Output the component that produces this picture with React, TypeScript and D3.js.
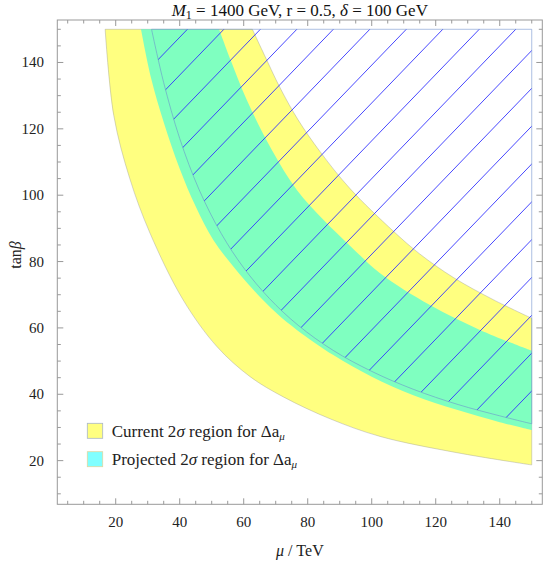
import React from 'react';
import * as d3 from 'd3';

const W = 545;
const H = 562;

// boundaries, [mu (TeV), tan beta]
const currentLow = [
  [16.7, 150], [19.4, 124], [24.4, 105], [30.7, 88.6], [41.1, 68.4], [51.6, 54.4],
  [62, 45.3], [72.4, 39.2], [87, 32.6], [102.6, 27.3], [126.6, 22.4], [150, 18.7],
];
const currentHigh = [
  [62.7, 150], [66, 143.2], [71.4, 132.3], [77, 122.7], [83.8, 113.2], [93.2, 102],
  [106.7, 89.2], [115, 82.3], [125.5, 75.2], [138, 68.5], [150, 62.9],
];
const projectedLow = [
  [27.9, 150], [31, 135.5], [35, 122], [40, 108], [45, 96.6], [50.5, 86.5], [56.75, 78.5],
  [63, 71.5], [70.3, 64.4], [76.6, 59.4], [88, 51.8], [100, 45.3], [113, 39.7],
  [126.6, 35.3], [140, 31.6], [150, 29.2],
];
const projectedHigh = [
  [52.3, 150], [56, 140.5], [61, 128.6], [68.75, 113.7], [76.6, 101.6], [84.9, 92.6],
  [93.2, 84.8], [102.6, 76.5], [118.2, 66.9], [133.8, 59.4], [150, 53.1],
];
// edge of the hatched region
const hatchEdge = [
  [31.2, 150], [35, 133.9], [40, 117.1], [46, 101.8], [53, 88.4], [60, 78.1], [68, 68.9],
  [77, 60.8], [88, 53.2], [100, 46.9], [113, 41.5], [127, 36.9], [140, 33.5], [150, 31.1],
];
// hatch lines: mu - tanb = offset
const hatchOffsets = [
  -107.6, -96.2, -84.8, -73.4, -62.0, -50.6, -39.2, -27.8, -16.4, -5.0,
  6.4, 17.8, 29.2, 40.6, 52.0, 63.4, 74.8, 86.2, 97.6, 109.0,
];
const muMax = 150;
const tanMax = 150;

const xTicks = [20, 40, 60, 80, 100, 120, 140];
const yTicks = [20, 40, 60, 80, 100, 120, 140];

const legendItems = [
  { label: 'Current', color: '#ffff80', edge: '#a9b6c8' },
  { label: 'Projected', color: '#80ffff', edge: '#e0d8a0' },
];

const font = '"Liberation Serif", "Times New Roman", serif';

export default function App() {
  const left = 57.3, right = 542.3, top = 20, bottom = 504.3;
  const x = d3.scaleLinear().domain([1.75, 153.3]).range([left, right]);
  const y = d3.scaleLinear().domain([6.84, 152.8]).range([bottom, top]);

  const line = d3.line<number[]>()
    .x(d => x(d[0]))
    .y(d => y(d[1]))
    .curve(d3.curveCatmullRom.alpha(0.5));

  const band = (lo: number[][], hi: number[][]) =>
    line(lo) + (line([...hi].reverse()) as string).replace('M', 'L') + 'Z';

  const hatchPath = line(hatchEdge) + `L${x(muMax)},${y(tanMax)}Z`;

  const minorX = d3.range(5, 155, 5).filter(v => v % 20 !== 0);
  const minorY = d3.range(10, 155, 5).filter(v => v % 20 !== 0);
  const frameColor = '#999';
  const major = 6, minor = 3.5;

  return (
    <svg width={W} height={H} style={{ position: 'absolute', left: 0, top: 0 }} fontFamily={font}>
      <defs>
        <clipPath id="hatchClip">
          <path d={hatchPath} />
        </clipPath>
      </defs>

      {/* current region */}
      <path d={band(currentLow, currentHigh)} fill="#ffff80" stroke="#999" strokeOpacity={0.5} strokeWidth={0.8} />
      {/* projected region */}
      <path d={band(projectedLow, projectedHigh)} fill="#00ffff" fillOpacity={0.5} stroke="none" />

      {/* hatching */}
      <g clipPath="url(#hatchClip)">
        {hatchOffsets.map((c, i) => (
          <line key={i} x1={x(c)} y1={y(0)} x2={x(c + 200)} y2={y(200)} stroke="#3333ff" strokeWidth={0.9} />
        ))}
      </g>
      <path d={hatchPath} fill="none" stroke="#6a8ccc" strokeOpacity={0.55} strokeWidth={1} />

      {/* frame */}
      <rect x={left} y={top} width={right - left} height={bottom - top} fill="none" stroke={frameColor} strokeWidth={1} />
      {xTicks.map(v => (
        <g key={'xt' + v} stroke={frameColor}>
          <line x1={x(v)} x2={x(v)} y1={bottom} y2={bottom - major} />
          <line x1={x(v)} x2={x(v)} y1={top} y2={top + major} />
        </g>
      ))}
      {minorX.map(v => (
        <g key={'xm' + v} stroke={frameColor}>
          <line x1={x(v)} x2={x(v)} y1={bottom} y2={bottom - minor} />
          <line x1={x(v)} x2={x(v)} y1={top} y2={top + minor} />
        </g>
      ))}
      {yTicks.map(v => (
        <g key={'yt' + v} stroke={frameColor}>
          <line x1={left} x2={left + major} y1={y(v)} y2={y(v)} />
          <line x1={right} x2={right - major} y1={y(v)} y2={y(v)} />
        </g>
      ))}
      {minorY.map(v => (
        <g key={'ym' + v} stroke={frameColor}>
          <line x1={left} x2={left + minor} y1={y(v)} y2={y(v)} />
          <line x1={right} x2={right - minor} y1={y(v)} y2={y(v)} />
        </g>
      ))}

      {/* tick labels */}
      {xTicks.map(v => (
        <text key={'xl' + v} x={x(v)} y={527} textAnchor="middle" fontSize={15} fill="#222">{v}</text>
      ))}
      {yTicks.map(v => (
        <text key={'yl' + v} x={44} y={y(v) + 5} textAnchor="end" fontSize={15} fill="#222">{v}</text>
      ))}

      {/* title */}
      <text x={(left + right) / 2} y={15.5} textAnchor="middle" fontSize={17} fill="#111">
        <tspan fontStyle="italic">M</tspan>
        <tspan fontSize={12} dy={3}>1</tspan>
        <tspan dy={-3}>{' = 1400 GeV, r = 0.5, '}</tspan>
        <tspan fontStyle="italic">δ</tspan>
        <tspan>{' = 100 GeV'}</tspan>
      </text>

      {/* axis labels */}
      <text x={(left + right) / 2} y={556} textAnchor="middle" fontSize={16} fill="#222">
        <tspan fontStyle="italic">μ</tspan>
        <tspan>{' / TeV'}</tspan>
      </text>
      <text transform={`translate(21,${255}) rotate(-90)`} textAnchor="middle" fontSize={16} fill="#222">
        <tspan>tan</tspan>
        <tspan fontStyle="italic">β</tspan>
      </text>

      {/* legend */}
      {legendItems.map((it, i) => (
        <g key={it.label} transform={`translate(87.3,${423.3 + i * 28.4})`}>
          <rect width={15.4} height={15} fill={it.color} stroke={it.edge} strokeWidth={0.8} />
          <text x={24.4} y={13.4} fontSize={17} fill="#222">
            <tspan>{it.label + ' 2'}</tspan>
            <tspan fontStyle="italic">σ</tspan>
            <tspan>{' region for Δa'}</tspan>
            <tspan fontSize={11} fontStyle="italic" dy={3}>μ</tspan>
          </text>
        </g>
      ))}
    </svg>
  );
}
